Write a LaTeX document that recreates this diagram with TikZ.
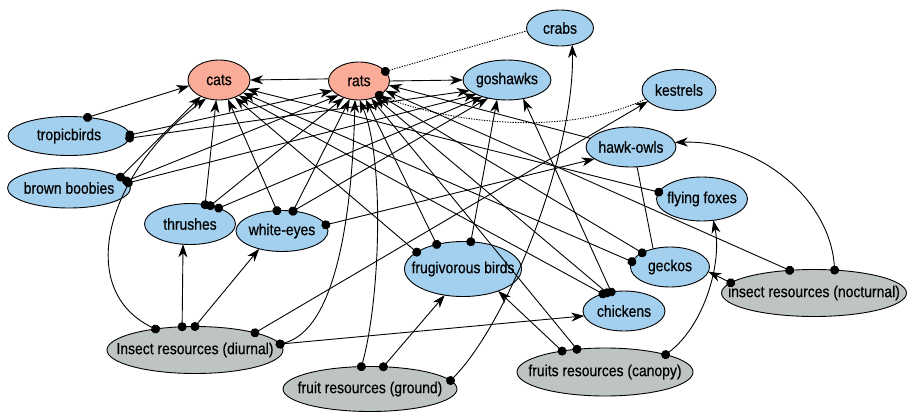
\documentclass[tikz,border=0pt]{standalone}
\usepackage{fontspec}
\setmainfont{Liberation Sans}[FakeStretch=0.87,FakeBold=0.5]
\usetikzlibrary{shapes.geometric,arrows.meta}
\definecolor{spblue}{RGB}{162,208,238}
\definecolor{predred}{RGB}{250,172,152}
\definecolor{resgray}{RGB}{190,195,196}
\tikzset{
  lbl/.style={font=\fontsize{16}{19}\selectfont, text=black, inner sep=0pt},
  taxon/.style={ellipse, draw=black, line width=0.9pt, inner sep=0pt, outer sep=0pt, label={[lbl]center:#1}},
  spc/.style={taxon={#1}, fill=spblue},
  prd/.style={taxon={#1}, fill=predred},
  res/.style={taxon={#1}, fill=resgray},
  eat/.style={line width=0.9pt, {Circle[length=9pt]}-{Stealth[length=13pt,width=9pt,inset=4pt]}, shorten <=-4.5pt},
  eatnodot/.style={line width=0.9pt, -{Stealth[length=13pt,width=9pt,inset=4pt]}},
  link/.style={line width=0.9pt},
  comp/.style={line width=0.9pt, dash pattern=on 1.3pt off 1.3pt, {Circle[length=9pt]}-, shorten <=-4.5pt},
}
\begin{document}
\begin{tikzpicture}[x=1pt,y=-1pt]
\useasboundingbox (0,0) rectangle (907,412);
% nodes
\node[prd=cats, minimum width=62pt, minimum height=40pt] (cats) at (219,80) {};
\node[prd=rats, minimum width=61pt, minimum height=38pt] (rats) at (359,81) {};
\node[spc=goshawks, minimum width=88pt, minimum height=40pt] (goshawks) at (507,80) {};
\node[spc=crabs, minimum width=67pt, minimum height=36pt] (crabs) at (560,28) {};
\node[spc=kestrels, minimum width=74pt, minimum height=41pt] (kestrels) at (679,90) {};
\node[spc=hawk-owls, minimum width=90pt, minimum height=40pt] (hawkowls) at (631,147) {};
\node[spc=flying foxes, minimum width=91pt, minimum height=44pt] (ffox) at (702,199) {};
\node[spc=tropicbirds, minimum width=122pt, minimum height=39pt] (trop) at (69,136) {};
\node[spc=brown boobies, minimum width=123pt, minimum height=40pt] (boob) at (69,188) {};
\node[spc=thrushes, minimum width=91pt, minimum height=41pt] (thr) at (190,224) {};
\node[spc=white-eyes, minimum width=92pt, minimum height=41pt] (we) at (282,231) {};
\node[spc=frugivorous birds, minimum width=117pt, minimum height=55pt] (frug) at (463,269) {};
\node[spc=chickens, minimum width=82pt, minimum height=40pt] (chk) at (624,311) {};
\node[spc=geckos, minimum width=79pt, minimum height=40pt] (gek) at (670,267) {};
\node[res=insect resources (nocturnal), minimum width=185pt, minimum height=47pt] (insN) at (814,293) {};
\node[res=Insect resources (diurnal), minimum width=176pt, minimum height=47pt] (insD) at (195,350) {};
\node[res=fruit resources (ground), minimum width=174pt, minimum height=45pt] (fruitG) at (370,389) {};
\node[res=fruits resources (canopy), minimum width=176pt, minimum height=48pt] (fruitC) at (605,372) {};
% rats
\draw[eatnodot] (rats.176) -- (cats.0);
\draw[eatnodot] (rats.0) -- (goshawks.180);
\draw[comp] (rats.20) -- (crabs.185);
\draw[comp] (rats.-35) .. controls (440,120) and (560,140) .. (kestrels.195);
% tropicbirds
\draw[eat] (trop.45) -- (cats.191);
\draw[eat] (trop.1) -- (rats.200);
\draw[eat] (trop.-2) -- (goshawks.196);
% brown boobies
\draw[eat] (boob.12) -- (cats.222);
\draw[eat] (boob.7) -- (rats.215);
\draw[eat] (boob.5) -- (goshawks.205);
% thrushes
\draw[eat] (thr.52) -- (cats.262);
\draw[eat] (thr.42) -- (rats.228);
\draw[eat] (thr.29) -- (goshawks.214);
% white-eyes
\draw[eat] (we.104) -- (cats.295);
\draw[eat] (we.61) -- (rats.243);
\draw[eat] (we.61) -- (goshawks.224);
\draw[eat] (we.8) -- (hawkowls.198);
% insect resources (diurnal)
\draw[eat] (insD.152) .. controls (75,290) and (105,175) .. (cats.235);
\draw[eat] (insD.119) -- (thr.251);
\draw[eat] (insD.90) -- (we.218);
\draw[eat] (insD.16) -- (kestrels.200);
\draw[eat] (insD.4) .. controls (335,330) and (352,220) .. (rats.258);
\draw[eat] (insD.4) -- (chk.187);
% fruit resources (ground)
\draw[eat] (fruitG.111) .. controls (380,300) and (385,160) .. (rats.272);
\draw[eat] (fruitG.59) -- (frug.235);
\draw[eat] (fruitG.6) .. controls (510,320) and (575,150) .. (crabs.306);
% fruits resources (canopy)
\draw[eat] (fruitC.154) -- (frug.328);
\draw[eat] (fruitC.141) -- (rats.305);
\draw[eat] (fruitC.16) .. controls (705,325) and (722,262) .. (ffox.298);
% chickens
\draw[eat] (chk.141) -- (cats.322);
\draw[eat] (chk.133) -- (rats.315);
\draw[eat] (chk.124) -- (goshawks.311);
% geckos
\draw[eat] (gek.172) -- (cats.332);
\draw[eat] (gek.153) -- (rats.325);
\draw[link] (hawkowls.287) -- (gek.133);
% flying foxes, hawk-owls
\draw[eat] (ffox.171) -- (cats.342);
\draw[eatnodot] (hawkowls.168) -- (rats.352);
% insect resources (nocturnal)
\draw[eat] (insN.173) -- (gek.353);
\draw[eat] (insN.137) -- (rats.340);
\draw[eat] (insN.48) .. controls (830,200) and (760,140) .. (hawkowls.6);
% frugivorous birds
\draw[eat] (frug.160) -- (cats.312);
\draw[eat] (frug.137) -- (rats.290);
\draw[eat] (frug.74) -- (goshawks.243);
\end{tikzpicture}
\end{document}
